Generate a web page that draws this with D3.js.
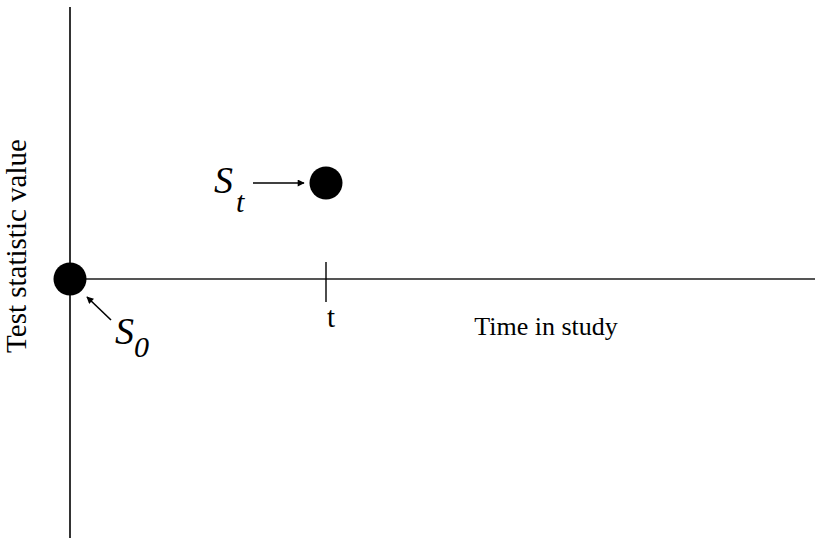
<!DOCTYPE html>
<html>
<head>
<meta charset="utf-8">
<script src="https://cdn.jsdelivr.net/npm/d3@7"></script>
<style>
  body { margin: 0; background: #fff; }
  text { font-family: "Liberation Serif", "Times New Roman", serif; }
</style>
</head>
<body>
<script>
// Constantes del dibujo
const WIDTH = 815;
const HEIGHT = 541;
const ORIGEN = { x: 70, y: 279 };

// Datos: tiempo y valor del estadístico
const tiempos = [0, 1];
const valores = [0, 1];
const nombres = ["0", "t"];
const marcasEjeX = [1];
const etiquetasEjeX = ["t"];

const svg = d3.select("body")
  .append("svg")
  .attr("width", WIDTH)
  .attr("height", HEIGHT);

// Escalas: el tiempo t cae en x=326 y el valor 1 en y=183
const escalaX = d3.scaleLinear().domain([0, 1]).range([ORIGEN.x, 326]);
const escalaY = d3.scaleLinear().domain([0, 1]).range([ORIGEN.y, 183]);

// Punta de flecha
svg.append("defs").append("marker")
  .attr("id", "flecha")
  .attr("viewBox", "0 0 10 10")
  .attr("refX", 9)
  .attr("refY", 5)
  .attr("markerWidth", 10)
  .attr("markerHeight", 7)
  .attr("markerUnits", "userSpaceOnUse")
  .attr("orient", "auto")
  .append("path")
  .attr("d", "M0,0 L10,5 L0,10 Z")
  .attr("fill", "#000");

// Eje vertical
svg.append("line")
  .attr("x1", escalaX(0)).attr("x2", escalaX(0))
  .attr("y1", 7).attr("y2", 538)
  .attr("stroke", "#000")
  .attr("stroke-width", 1.6);

// Eje horizontal
svg.append("line")
  .attr("x1", escalaX(0)).attr("x2", WIDTH)
  .attr("y1", escalaY(0)).attr("y2", escalaY(0))
  .attr("stroke", "#555")
  .attr("stroke-width", 1.8);

// Marca en t
const ejeX = svg.append("g");
ejeX.selectAll("line")
  .data(marcasEjeX)
  .join("line")
  .attr("x1", d => escalaX(d)).attr("x2", d => escalaX(d))
  .attr("y1", escalaY(0) - 17).attr("y2", escalaY(0) + 23)
  .attr("stroke", "#000")
  .attr("stroke-width", 1.4);

ejeX.selectAll("text")
  .data(marcasEjeX)
  .join("text")
  .attr("x", d => escalaX(d) + 5)
  .attr("y", escalaY(0) + 48)
  .attr("text-anchor", "middle")
  .attr("font-size", 29)
  .text((d, i) => etiquetasEjeX[i]);

// Títulos de ejes
svg.append("text")
  .attr("x", 546)
  .attr("y", 335)
  .attr("text-anchor", "middle")
  .attr("font-size", 26)
  .text("Time in study");

svg.append("text")
  .attr("transform", "translate(26, 246) rotate(-90)")
  .attr("text-anchor", "middle")
  .attr("font-size", 29)
  .text("Test statistic value");

// Puntos
svg.selectAll("circle")
  .data(tiempos)
  .join("circle")
  .attr("cx", d => escalaX(d))
  .attr("cy", (d, i) => escalaY(valores[i]))
  .attr("r", 16.5)
  .attr("fill", "#000");

// Flecha y etiqueta de S_t
const xt = escalaX(tiempos[1]);
const yt = escalaY(valores[1]);
svg.append("line")
  .attr("x1", xt - 73).attr("x2", xt - 22)
  .attr("y1", yt).attr("y2", yt)
  .attr("stroke", "#000")
  .attr("stroke-width", 1.6)
  .attr("marker-end", "url(#flecha)");

const etiquetaT = svg.append("text")
  .attr("x", 214)
  .attr("y", 193)
  .attr("font-style", "italic")
  .attr("font-size", 38);
etiquetaT.append("tspan").text("S");
etiquetaT.append("tspan")
  .attr("font-size", 30)
  .attr("dx", 3)
  .attr("dy", 19)
  .text(nombres[1]);

// Flecha y etiqueta de S_0
const x0 = escalaX(tiempos[0]);
const y0 = escalaY(valores[0]);
svg.append("line")
  .attr("x1", x0 + 41).attr("y1", y0 + 41)
  .attr("x2", x0 + 17).attr("y2", y0 + 18)
  .attr("stroke", "#000")
  .attr("stroke-width", 1.6)
  .attr("marker-end", "url(#flecha)");

const etiqueta0 = svg.append("text")
  .attr("x", 115)
  .attr("y", 344)
  .attr("font-style", "italic")
  .attr("font-size", 38);
etiqueta0.append("tspan").text("S");
etiqueta0.append("tspan")
  .attr("font-size", 30)
  .attr("dy", 13)
  .text(nombres[0]);
</script>
</body>
</html>
